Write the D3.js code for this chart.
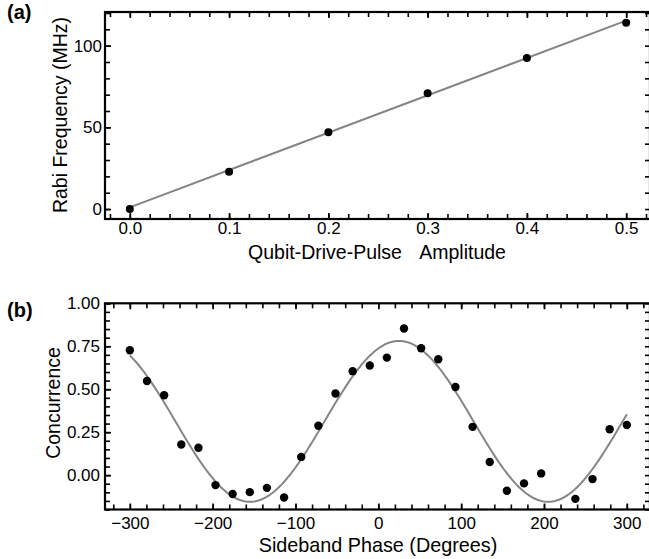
<!DOCTYPE html>
<html>
<head>
<meta charset="utf-8">
<script src="https://cdn.jsdelivr.net/npm/d3@7"></script>
<style>
  html, body { margin: 0; padding: 0; background: #fff; }
  svg { display: block; font-family: "Liberation Sans", Arial, Helvetica, sans-serif; }
</style>
</head>
<body>
<svg id="fig" width="649" height="559"></svg>
<script>
// ---- Panel (a): Rabi frequency against qubit-drive-pulse amplitude ----
const amplitudes  = [0.0, 0.1, 0.2, 0.3, 0.4, 0.5];
const rabiFreqMHz = [0.0, 22.8, 47.0, 70.8, 92.4, 114.0];
// linear fit: f = slope * amplitude + intercept
const rabiFitSlope = 228.6;
const rabiFitIntercept = 1.0;
const ampTicks  = [0.0, 0.1, 0.2, 0.3, 0.4, 0.5];
const rabiTicks = [0, 50, 100];

// ---- Panel (b): concurrence against sideband phase ----
const phaseDeg = [-300, -279.3, -258.6, -237.9, -217.2, -196.6, -175.9, -155.2, -134.5, -113.8,
                  -93.1, -72.4, -51.7, -31.0, -10.3, 10.3, 31.0, 51.7, 72.4, 93.1,
                  113.8, 134.5, 155.2, 175.9, 196.6, 237.9, 258.6, 279.3, 300];
const concurrence = [0.727, 0.548, 0.465, 0.178, 0.159, -0.058, -0.110, -0.099, -0.074, -0.130,
                     0.106, 0.287, 0.475, 0.605, 0.638, 0.684, 0.853, 0.738, 0.674, 0.513,
                     0.281, 0.076, -0.091, -0.048, 0.010, -0.138, -0.023, 0.267, 0.292];
// sinusoidal fit: C = offset + amp * cos(phase - phase0)
const concFitOffset = 0.313;
const concFitAmp = 0.468;
const concFitPhase0 = 25;
const phaseTicks = [-300, -200, -100, 0, 100, 200, 300];
const concTicks  = [0.00, 0.25, 0.50, 0.75, 1.00];

const svg = d3.select("#fig");
const FIT_COLOR = "#858585";
const TICK_FONT = 17;
const TITLE_FONT = 19.5;

// draws the closed frame with inward major/minor ticks on all four sides
function drawFrame(g, x, y, opt) {
  const [x0, x1] = x.range();
  const [y0, y1] = y.range(); // y0 bottom, y1 top
  const MAJ = 6, MIN = 5;

  function styleAxis(sel) {
    sel.select(".domain").remove();
    sel.selectAll(".tick line").attr("stroke", "#000").attr("stroke-width", 1.6);
    sel.selectAll(".tick text").attr("fill", "#000").attr("font-size", TICK_FONT)
       .attr("font-family", "Liberation Sans, Arial, sans-serif");
  }

  // minor ticks
  g.append("g").attr("transform", `translate(0,${y0})`)
    .call(d3.axisBottom(x).tickValues(opt.xMinor).tickSizeInner(-MIN).tickSizeOuter(0).tickFormat(""))
    .call(styleAxis);
  g.append("g").attr("transform", `translate(0,${y1})`)
    .call(d3.axisTop(x).tickValues(opt.xMinor).tickSizeInner(-MIN).tickSizeOuter(0).tickFormat(""))
    .call(styleAxis);
  g.append("g").attr("transform", `translate(${x0},0)`)
    .call(d3.axisLeft(y).tickValues(opt.yMinor).tickSizeInner(-MIN).tickSizeOuter(0).tickFormat(""))
    .call(styleAxis);
  g.append("g").attr("transform", `translate(${x1},0)`)
    .call(d3.axisRight(y).tickValues(opt.yMinor).tickSizeInner(-MIN).tickSizeOuter(0).tickFormat(""))
    .call(styleAxis);

  // major ticks with labels
  g.append("g").attr("transform", `translate(0,${y0})`)
    .call(d3.axisBottom(x).tickValues(opt.xMajor).tickSizeInner(-MAJ).tickSizeOuter(0)
          .tickPadding(opt.xPad).tickFormat(opt.xFmt))
    .call(styleAxis);
  g.append("g").attr("transform", `translate(${x0},0)`)
    .call(d3.axisLeft(y).tickValues(opt.yMajor).tickSizeInner(-MAJ).tickSizeOuter(0)
          .tickPadding(opt.yPad).tickFormat(opt.yFmt))
    .call(styleAxis);
  g.append("g").attr("transform", `translate(0,${y1})`)
    .call(d3.axisTop(x).tickValues(opt.xMajor).tickSizeInner(-MAJ).tickSizeOuter(0).tickFormat(""))
    .call(styleAxis);

  g.append("rect")
    .attr("x", x0).attr("y", y1)
    .attr("width", x1 - x0).attr("height", y0 - y1)
    .attr("fill", "none").attr("stroke", "#000").attr("stroke-width", 2.2);
}

// ---------------- Panel (a) ----------------
const xA = d3.scaleLinear().domain([-0.025, 0.524]).range([105, 650]);
const yA = d3.scaleLinear().domain([-6.1, 120.6]).range([219, 12]);
const gA = svg.append("g");

const fitA = d3.line().x(d => xA(d)).y(d => yA(rabiFitSlope * d + rabiFitIntercept));
gA.append("path")
  .attr("d", fitA([amplitudes[0], amplitudes[amplitudes.length - 1]]))
  .attr("fill", "none").attr("stroke", FIT_COLOR).attr("stroke-width", 2);

gA.selectAll("circle").data(amplitudes.map((a, i) => [a, rabiFreqMHz[i]]))
  .join("circle")
  .attr("cx", d => xA(d[0])).attr("cy", d => yA(d[1])).attr("r", 4).attr("fill", "#000");

drawFrame(gA, xA, yA, {
  xMajor: ampTicks, yMajor: rabiTicks,
  xMinor: d3.range(-0.02, 0.5201, 0.02), yMinor: d3.range(0, 120.1, 10),
  xFmt: d3.format(".1f"), yFmt: d3.format("d"), xPad: 3, yPad: 3
});

gA.append("text")
  .attr("x", 377).attr("y", 259).attr("text-anchor", "middle")
  .attr("font-size", TITLE_FONT).style("word-spacing", "13px")
  .text("Qubit-Drive-Pulse Amplitude");
gA.append("text")
  .attr("transform", "translate(67,115) rotate(-90)").attr("text-anchor", "middle")
  .attr("font-size", TITLE_FONT)
  .text("Rabi Frequency (MHz)");
gA.append("text")
  .attr("x", 7).attr("y", 19).attr("font-size", 20).attr("font-weight", "bold")
  .text("(a)");

// ---------------- Panel (b) ----------------
const xB = d3.scaleLinear().domain([-330, 328]).range([105, 650]);
const yB = d3.scaleLinear().domain([-0.2, 1.0]).range([509.5, 303.3]);
const gB = svg.append("g");

const fitPhases = d3.range(-300, 300.5, 2);
const fitB = d3.line()
  .x(d => xB(d))
  .y(d => yB(concFitOffset + concFitAmp * Math.cos((d - concFitPhase0) * Math.PI / 180)));
gB.append("path")
  .attr("d", fitB(fitPhases))
  .attr("fill", "none").attr("stroke", FIT_COLOR).attr("stroke-width", 2);

gB.selectAll("circle").data(phaseDeg.map((p, i) => [p, concurrence[i]]))
  .join("circle")
  .attr("cx", d => xB(d[0])).attr("cy", d => yB(d[1])).attr("r", 4.2).attr("fill", "#000");

drawFrame(gB, xB, yB, {
  xMajor: phaseTicks, yMajor: concTicks,
  xMinor: d3.range(-320, 321, 20), yMinor: d3.range(-0.2, 1.001, 0.05),
  xFmt: d3.format("d"), yFmt: d3.format(".2f"), xPad: 7, yPad: 5
});

gB.append("text")
  .attr("x", 378).attr("y", 552).attr("text-anchor", "middle")
  .attr("font-size", 19.8)
  .text("Sideband Phase (Degrees)");
gB.append("text")
  .attr("transform", "translate(60,403) rotate(-90)").attr("text-anchor", "middle")
  .attr("font-size", TITLE_FONT)
  .text("Concurrence");
gB.append("text")
  .attr("x", 7).attr("y", 317).attr("font-size", 20).attr("font-weight", "bold")
  .text("(b)");
</script>
</body>
</html>
